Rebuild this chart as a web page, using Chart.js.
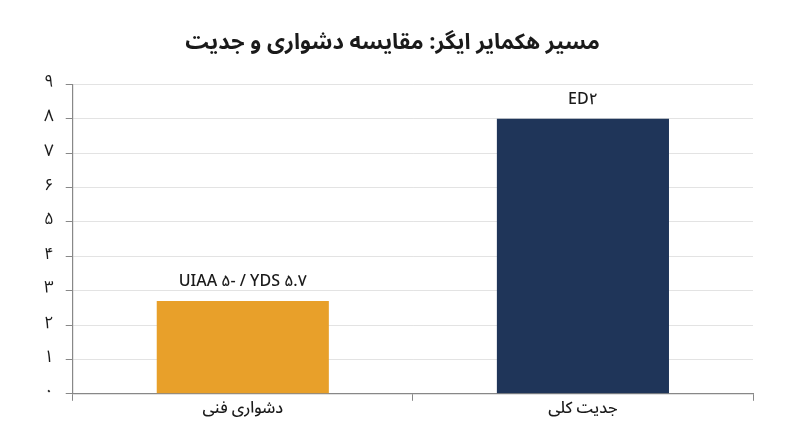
<!DOCTYPE html>
<html>
<head>
<meta charset="utf-8">
<script src="https://cdn.jsdelivr.net/npm/chart.js@4"></script>
<style>
  html, body { margin: 0; padding: 0; background: #fff; }
  #wrap { width: 800px; height: 447px; }
</style>
</head>
<body>
<div id="wrap"><canvas id="chart"></canvas></div>
<script>
// Data
const categories = ["دشواری فنی", "جدیت کلی"];
const values = [2.7, 8];
const barLabels = ["UIAA ۵- / YDS ۵.۷", "ED۲"];
const barColors = ["#E8A02A", "#1F3559"];
const yTicks = [0, 1, 2, 3, 4, 5, 6, 7, 8, 9];

const fontFamily = "'Noto Sans Arabic', 'Vazirmatn', 'DejaVu Sans', 'Noto Sans', sans-serif";

// Persian digits
const faDigits = n => String(n).replace(/\d/g, d => "۰۱۲۳۴۵۶۷۸۹"[d]);

// draw text above bars
const barTextPlugin = {
    id: "barText",
    afterDatasetsDraw(chart) {
        const ctx = chart.ctx;
        const meta = chart.getDatasetMeta(0);
        ctx.save();
        ctx.font = "500 16px " + fontFamily;
        ctx.fillStyle = "#1a1a1a";
        ctx.textAlign = "center";
        ctx.textBaseline = "bottom";
        meta.data.forEach((bar, i) => {
            ctx.fillText(barLabels[i], bar.x, bar.y - 9);
        });
        ctx.restore();
    }
};

new Chart(document.getElementById("chart"), {
    type: "bar",
    data: {
        labels: categories,
        datasets: [{
            data: values,
            backgroundColor: barColors,
            categoryPercentage: 1,
            barPercentage: 0.506
        }]
    },
    plugins: [barTextPlugin],
    options: {
        responsive: true,
        maintainAspectRatio: false,
        animation: false,
        layout: { padding: { left: 32, right: 47, top: 6, bottom: 27 } },
        plugins: {
            legend: { display: false },
            tooltip: { enabled: false },
            title: {
                display: true,
                text: "مسیر هکمایر ایگر: مقایسه دشواری و جدیت",
                color: "#1a1a1a",
                font: { family: fontFamily, size: 22, weight: "bold" },
                padding: { top: 26, bottom: 26 }
            }
        },
        scales: {
            x: {
                grid: {
                    drawOnChartArea: false,
                    drawTicks: true,
                    tickLength: 7,
                    color: "#888"
                },
                border: { color: "#888", width: 1.2 },
                ticks: {
                    color: "#1a1a1a",
                    padding: 0,
                    font: { family: fontFamily, size: 16, weight: "500" }
                }
            },
            y: {
                min: 0,
                max: 9,
                afterBuildTicks: axis => { axis.ticks = yTicks.map(v => ({ value: v })); },
                grid: {
                    color: "#e3e3e3",
                    tickColor: "#888",
                    tickLength: 7,
                    offset: false
                },
                border: { color: "#888", width: 1.2 },
                ticks: {
                    color: "#1a1a1a",
                    padding: 12,
                    font: { family: fontFamily, size: 17 },
                    callback: v => faDigits(v)
                }
            }
        }
    }
});
</script>
</body>
</html>
